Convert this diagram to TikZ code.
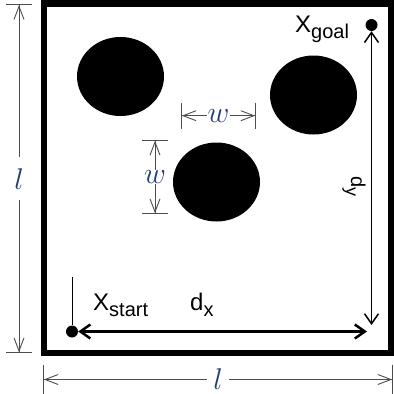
\documentclass[tikz,border=0pt]{standalone}
\usepackage{fix-cm}
\usepackage{fontspec}
\newfontfamily\arialfont{Liberation Sans}
\usetikzlibrary{arrows.meta,shapes.geometric}
\definecolor{dimblue}{RGB}{35,60,115}
\newcommand\subtag[1]{\raisebox{-6pt}{\fontsize{20}{22}\selectfont #1}}

\begin{document}
\begin{tikzpicture}[
x=1pt,y=-1pt,
obstacle/.style={ellipse,fill=black,minimum width=87pt,minimum height=79pt,inner sep=0pt},
point/.style={circle,fill=black,minimum size=12pt,inner sep=0pt},
dimline/.style={draw=black!70,line width=0.9pt,arrows={Bar[width=#1]Straight Barb[length=13pt,width=10pt]-Straight Barb[length=13pt,width=10pt]Bar[width=#1]}},
dimline/.default=26pt,
dimlabel/.style={fill=white,text=dimblue,font=\fontsize{30}{36}\selectfont,inner sep=#1},
dimlabel/.default=1pt,
tag/.style={font=\arialfont\fontsize{24}{26}\selectfont,inner sep=0pt},
track/.style={draw=black,line width=#1,arrows={Straight Barb[length=10pt,width=14pt]-Straight Barb[length=10pt,width=14pt]}}
]
\useasboundingbox (0,0) rectangle (394,394);

% obstacles and field
\node[obstacle] (obs1) at (120.5,76.5) {};
\node[obstacle] (obs2) at (313.5,95) {};
\node[obstacle] (obs3) at (216.5,182) {};
\draw[line width=6.5pt] (44,3.5) rectangle (391,353);

% start and goal
\node[point] (start) at (72,331.5) {};
\node[point] (goal) at (371.5,25) {};
\coordinate (starttop) at (72,277);
\coordinate (dxend) at (367,331.5);
\coordinate (dyend) at (371.5,325);

\draw[line width=1pt] (start) -- (starttop);
\draw[track=2.5pt] (start) -- (dxend);
\draw[track=1.5pt] (goal) -- (dyend);

\node[tag,anchor=base west] (starttext) at (93,310) {X\subtag{start}};
\node[tag,anchor=base west] (goaltext) at (295,32) {X\subtag{goal}};
\node[tag,anchor=base west] (dxtext) at (190,310) {d\subtag{x}};
\node[tag,anchor=base west,rotate=-90,font=\arialfont\fontsize{20}{22}\selectfont] (dytext) at (351,176) {d\raisebox{-5pt}{\fontsize{18}{20}\selectfont y}};

% dimensions
\coordinate (ltop) at (19,4.3);
\coordinate (lbot) at (19,353);
\draw[dimline] (ltop) -- node[dimlabel=6pt,inner ysep=11pt] (lleft) {$l$} (lbot);

\coordinate (lleftend) at (43,379.5);
\coordinate (lrightend) at (393,379.5);
\draw[dimline=30pt] (lleftend) -- node[dimlabel=6pt,inner ysep=1pt] (lbottom) {$l$} (lrightend);

\coordinate (wleft) at (181,115.7);
\coordinate (wright) at (256,115.7);
\draw[dimline] (wleft) -- node[dimlabel] (wtop) {$w$} (wright);

\coordinate (wup) at (155,140);
\coordinate (wdown) at (155,214);
\draw[dimline] (wup) -- node[dimlabel] (wside) {$w$} (wdown);

\end{tikzpicture}
\end{document}
